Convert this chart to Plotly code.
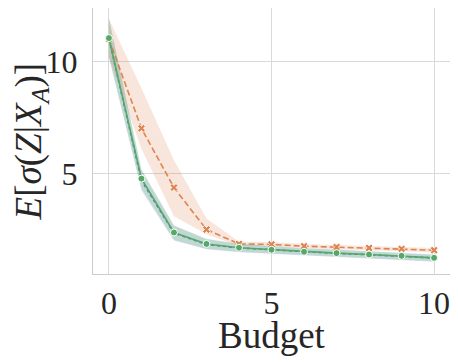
import plotly.graph_objects as go

budget = [0, 1, 2, 3, 4, 5, 6, 7, 8, 9, 10]

blue_mean = [11.0, 4.70, 2.35, 1.85, 1.69, 1.60, 1.51, 1.45, 1.39, 1.33, 1.24]
blue_lo = [10.2, 4.25, 2.02, 1.63, 1.50, 1.43, 1.35, 1.29, 1.23, 1.17, 1.08]
blue_hi = [11.9, 5.15, 2.68, 2.08, 1.87, 1.77, 1.67, 1.61, 1.54, 1.48, 1.39]

orange_mean = [11.0, 7.02, 4.38, 2.51, 1.87, 1.85, 1.77, 1.73, 1.69, 1.65, 1.59]
orange_lo = [10.2, 6.1, 3.1, 2.3, 1.78, 1.76, 1.68, 1.64, 1.60, 1.56, 1.50]
orange_hi = [11.9, 8.8, 5.6, 3.0, 1.97, 1.95, 1.87, 1.83, 1.79, 1.75, 1.69]

green_mean = [11.04, 4.78, 2.38, 1.87, 1.70, 1.61, 1.52, 1.46, 1.40, 1.34, 1.25]
green_lo = [10.2, 4.35, 2.05, 1.65, 1.52, 1.45, 1.37, 1.31, 1.25, 1.19, 1.10]
green_hi = [11.9, 5.2, 2.7, 2.1, 1.88, 1.78, 1.68, 1.62, 1.55, 1.49, 1.40]

BLUE = "#4c72b0"
ORANGE = "#dd8452"
GREEN = "#55a868"


def band(fig, lo, hi, fillcol):
    fig.add_trace(go.Scatter(x=budget, y=hi, mode="lines", line=dict(width=0),
                             showlegend=False, hoverinfo="skip"))
    fig.add_trace(go.Scatter(x=budget, y=lo, mode="lines", line=dict(width=0),
                             fill="tonexty", fillcolor=fillcol,
                             showlegend=False, hoverinfo="skip"))


fig = go.Figure()

band(fig, blue_lo, blue_hi, "rgba(76,114,176,0.2)")
fig.add_trace(go.Scatter(x=budget, y=blue_mean, mode="lines",
                         line=dict(color=BLUE, width=1.6, dash="dot"),
                         showlegend=False))

band(fig, orange_lo, orange_hi, "rgba(221,132,82,0.2)")
fig.add_trace(go.Scatter(x=budget, y=orange_mean, mode="lines+markers",
                         line=dict(color=ORANGE, width=1.6, dash="6px,3px"),
                         marker=dict(symbol="x", size=7, color=ORANGE,
                                     line=dict(color="white", width=0.8)),
                         showlegend=False))

band(fig, green_lo, green_hi, "rgba(85,168,104,0.2)")
fig.add_trace(go.Scatter(x=budget, y=green_mean, mode="lines+markers",
                         line=dict(color=GREEN, width=1.6),
                         marker=dict(symbol="circle", size=7, color=GREEN,
                                     line=dict(color="white", width=1)),
                         showlegend=False))

# page body has an 8px margin, so the figure is a bit smaller
fig.update_layout(
    width=450, height=354,
    margin=dict(l=85, r=7, t=0, b=88, autoexpand=False),
    plot_bgcolor="white", paper_bgcolor="white",
    font=dict(family="Liberation Serif", size=32, color="#262626"),
)
fig.add_annotation(text="Budget", xref="paper", yref="paper", x=0.5, y=-0.233,
                   xanchor="center", yanchor="middle", showarrow=False,
                   font=dict(size=37), borderpad=0)
fig.add_annotation(text="<i>E</i>[<i>σ</i>(<i>Z</i>|<i>X</i><sub><i>A</i></sub>)]",
                   xref="paper", yref="paper", x=-0.172, y=0.5, textangle=-90,
                   xanchor="center", yanchor="middle", showarrow=False,
                   font=dict(size=37), borderpad=0)
fig.update_xaxes(
    range=[-0.49, 10.52], tickvals=[0, 5, 10],
    showgrid=True, gridcolor="#d9d9d9", gridwidth=1.2,
    showline=True, linecolor="#cccccc", linewidth=1.2, mirror=True,
    zeroline=False, ticks="", tickfont=dict(size=32), automargin=False,
)
fig.update_yaxes(
    range=[0.53, 12.38], tickvals=[5, 10],
    showgrid=True, gridcolor="#d9d9d9", gridwidth=1.2,
    showline=True, linecolor="#cccccc", linewidth=1.2, mirror=True,
    zeroline=False, ticks="", tickfont=dict(size=32), automargin=False,
    ticklabelstandoff=8,
)

fig.write_html("out.html")
